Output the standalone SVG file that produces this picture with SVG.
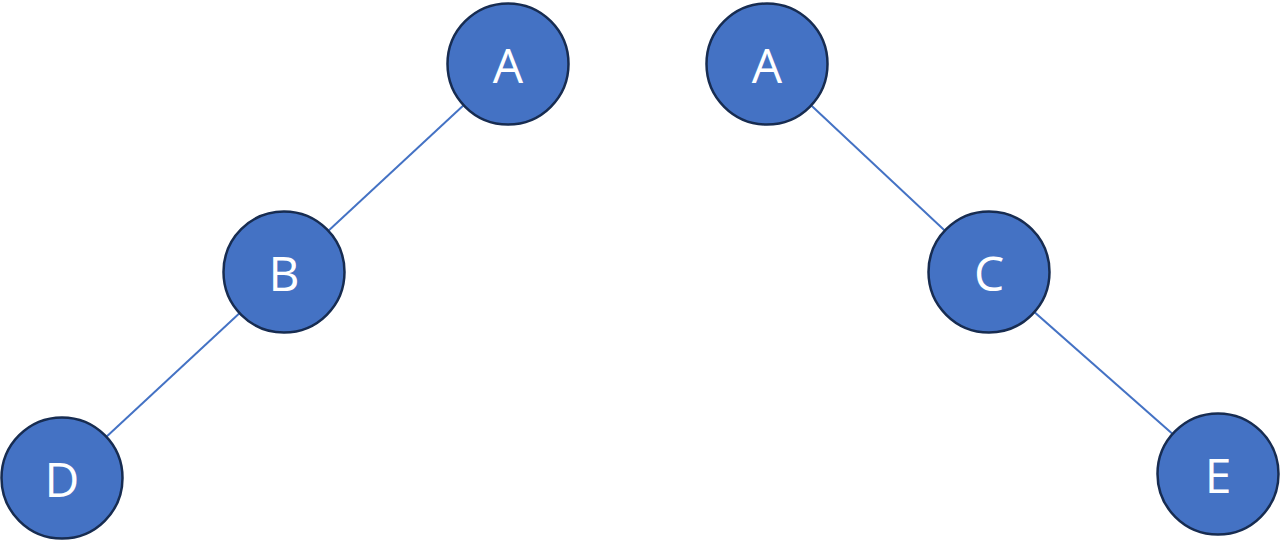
<svg xmlns="http://www.w3.org/2000/svg" width="1280" height="546" viewBox="0 0 1280 546">
<style>
.edge{stroke:#4472C4;stroke-width:2;fill:none}
.node circle{fill:#4472C4;stroke:#172C51;stroke-width:2.5}
.node text{fill:#FFFFFF;font-family:"Open Sans","Noto Sans",sans-serif;font-size:48px;text-anchor:middle;dominant-baseline:central}
</style>
<rect width="1280" height="546" fill="#FFFFFF"/>
<g id="connectors">
<line class="edge" x1="508" y1="64" x2="284" y2="272"/>
<line class="edge" x1="284" y1="272" x2="62" y2="478"/>
<line class="edge" x1="767" y1="64" x2="989" y2="272"/>
<line class="edge" x1="989" y1="272" x2="1218" y2="474"/>
</g>
<g id="node-A1" class="node"><circle cx="508" cy="64" r="60.5"/><text x="508" y="64">A</text></g>
<g id="node-B" class="node"><circle cx="284" cy="272" r="60.5"/><text x="284" y="272">B</text></g>
<g id="node-D" class="node"><circle cx="62" cy="478" r="60.5"/><text x="62" y="478">D</text></g>
<g id="node-A2" class="node"><circle cx="767" cy="64" r="60.5"/><text x="767" y="64">A</text></g>
<g id="node-C" class="node"><circle cx="989" cy="272" r="60.5"/><text x="989" y="272">C</text></g>
<g id="node-E" class="node"><circle cx="1218" cy="474" r="60.5"/><text x="1218" y="474">E</text></g>
</svg>
